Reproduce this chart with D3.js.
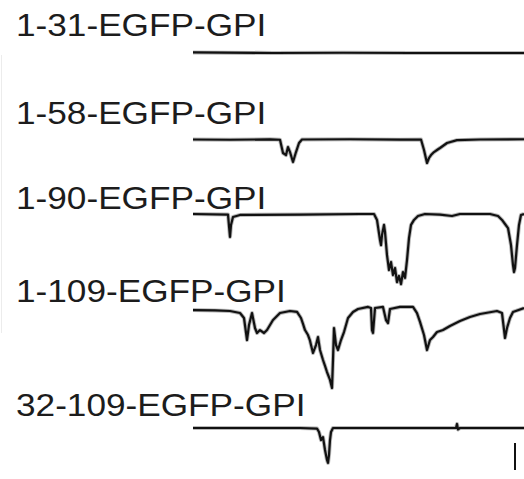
<!DOCTYPE html>
<html>
<head>
<meta charset="utf-8">
<script src="https://cdn.jsdelivr.net/npm/d3@7"></script>
<style>
  html, body { margin: 0; padding: 0; background: #fff; }
  svg { display: block; }
</style>
</head>
<body>
<svg id="chart" width="524" height="479"></svg>
<script>
// Construct names, top to bottom
const constructs = ["1-31-EGFP-GPI", "1-58-EGFP-GPI", "1-90-EGFP-GPI", "1-109-EGFP-GPI", "32-109-EGFP-GPI"];

// Current traces: [time (s), current (pA)] relative to each holding baseline
const trace_1_31 = [[0, 0.4], [8, 0], [15, 0.2], [22, 0], [33.1, 0]];

const trace_1_58 = [
  [0, 0], [3.7, -0.2], [7.7, 0.1], [8.7, -0.2], [9.0, -10.0], [9.3, -11.5], [9.5, -5.6],
  [9.7, -9.3], [10.0, -16.7], [10.3, -9.3], [10.6, -2.6], [10.9, 0], [15.7, 0.2], [20.7, -0.1],
  [22.8, 0], [23.1, -7.8], [23.4, -17.4], [23.6, -13.7], [23.8, -11.5], [24.1, -9.3],
  [24.4, -7.8], [24.7, -6.3], [25.4, -2.6], [26.4, -0.5], [28.7, 0], [33.1, 0.2]
];

const trace_1_90 = [
  [0, 0], [3.5, -0.4], [3.6, -8.9], [3.7, -17.0], [3.8, -8.1], [4.0, -2.2], [4.7, -0.7],
  [10.7, -0.4], [16.7, 0], [18.1, 0], [18.4, -4.4], [18.7, -19.3], [18.8, -23.0], [18.9, -15.6],
  [19.1, -8.1], [19.2, -13.3], [19.4, -30.4], [19.6, -41.5], [19.8, -35.6], [20.0, -45.2],
  [20.2, -40.0], [20.4, -50.4], [20.6, -45.9], [20.8, -51.9], [21.0, -43.0], [21.2, -47.4],
  [21.4, -34.1], [21.6, -17.8], [21.8, -8.1], [22.1, -4.4], [22.5, -1.5], [23.2, 0],
  [24.7, -0.4], [25.9, -1.5], [26.7, 0], [29.7, 0], [30.5, -1.5], [30.9, -4.4], [31.2, -7.4],
  [31.5, -10.4], [31.8, -23.0], [32.0, -37.8], [32.1, -43.0], [32.2, -40.0], [32.4, -23.0],
  [32.6, -8.1], [32.8, -0.7], [33.1, 0]
];

const trace_1_109 = [
  [0, 0.7], [2.2, 0.4], [3.7, 0], [4.7, -1.5], [5.1, -5.2], [5.4, -21.5], [5.6, -10.4],
  [5.9, -1.5], [6.2, -12.6], [6.4, -16.3], [6.7, -14.1], [7.1, -16.3], [7.4, -14.1],
  [8.0, -6.7], [8.7, -1.5], [9.7, 0], [10.4, -0.7], [10.8, -5.2], [11.0, -9.6], [11.2, -14.1],
  [11.5, -17.8], [11.7, -22.0], [11.8, -25.2], [12.0, -31.1], [12.3, -25.2], [12.5, -19.3],
  [12.7, -28.9], [13.0, -36.3], [13.2, -40.7], [13.4, -45.2], [13.7, -51.1], [13.9, -57.0],
  [14.0, -36.3], [14.1, -12.6], [14.3, -25.2], [14.5, -28.9], [14.8, -21.5], [15.1, -15.6],
  [15.5, -5.2], [16.0, -0.7], [16.5, 1.5], [17.5, 3.0], [17.8, 2.2], [17.9, -14.1], [18.0, -16.3],
  [18.2, 2.2], [19.0, 3.0], [19.3, -6.7], [19.5, -8.9], [19.7, 1.5], [20.7, 3.0], [22.0, 3.0],
  [22.4, -1.5], [22.7, -8.1], [23.1, -17.8], [23.4, -28.9], [23.7, -21.5], [24.0, -19.3],
  [24.4, -15.6], [25.0, -14.1], [25.7, -11.1], [26.7, -7.4], [27.7, -4.4], [28.7, -2.2],
  [30.4, 0], [30.9, -1.5], [31.2, -20.0], [31.4, -12.6], [31.7, -5.2], [32.0, -0.7], [33.1, 2.2]
];

const trace_32_109 = [
  [0, 0], [10.7, 0], [12.4, -0.4], [12.6, -3.0], [12.8, -8.9], [13.0, -6.7], [13.2, -16.3],
  [13.4, -23.7], [13.5, -25.9], [13.6, -20.0], [13.7, -8.9], [13.8, -3.0], [14.0, 0],
  [20.7, 0], [26.3, 0], [26.4, 3.0], [26.5, -1.1], [26.7, 0], [33.1, 0]
];

const traces = [trace_1_31, trace_1_58, trace_1_90, trace_1_109, trace_32_109];

// Calibration bar
const scaleBarTime = 32.2;  // s
const scaleBarCurrent = 20; // pA

// ---- layout ----
const svg = d3.select("#chart");
const baselines = [53, 139.5, 214, 311, 428];
const labelBaselines = [36, 124, 209, 302, 416];

const x = d3.scaleLinear().domain([0, 33.1]).range([193, 524]);
// pixels per pA, downward deflection for inward current
const y = d3.scaleLinear().domain([0, -scaleBarCurrent]).range([0, 27]);

const line = d3.line()
  .x(d => x(d[0]))
  .y(d => y(d[1]))
  .curve(d3.curveLinear);

// faint frame edge on the left
svg.append("line")
  .attr("x1", 1.5).attr("x2", 1.5)
  .attr("y1", 55).attr("y2", 333)
  .attr("stroke", "#ececec").attr("stroke-width", 1);

const rows = svg.selectAll("g.row")
  .data(traces)
  .join("g")
  .attr("class", "row")
  .attr("transform", (d, i) => `translate(0,${baselines[i]})`);

// soft halo for the recorded noise band
rows.append("path")
  .attr("d", line)
  .attr("fill", "none")
  .attr("stroke", "#333")
  .attr("stroke-opacity", 0.35)
  .attr("stroke-width", 4)
  .attr("stroke-linejoin", "round");

rows.append("path")
  .attr("d", line)
  .attr("fill", "none")
  .attr("stroke", "#111")
  .attr("stroke-width", 2.2)
  .attr("stroke-linejoin", "round");

svg.selectAll("text.label")
  .data(constructs)
  .join("text")
  .attr("class", "label")
  .attr("transform", (d, i) => `translate(16,${labelBaselines[i]}) scale(1.1,1)`)
  .attr("font-family", "'Liberation Sans', Arial, sans-serif")
  .attr("font-size", 32)
  .attr("fill", "#1c1c1c")
  .text(d => d);

// vertical calibration bar
svg.append("line")
  .attr("x1", x(scaleBarTime)).attr("x2", x(scaleBarTime))
  .attr("y1", 443).attr("y2", 443 + y(-scaleBarCurrent))
  .attr("stroke", "#111")
  .attr("stroke-width", 2);
</script>
</body>
</html>
